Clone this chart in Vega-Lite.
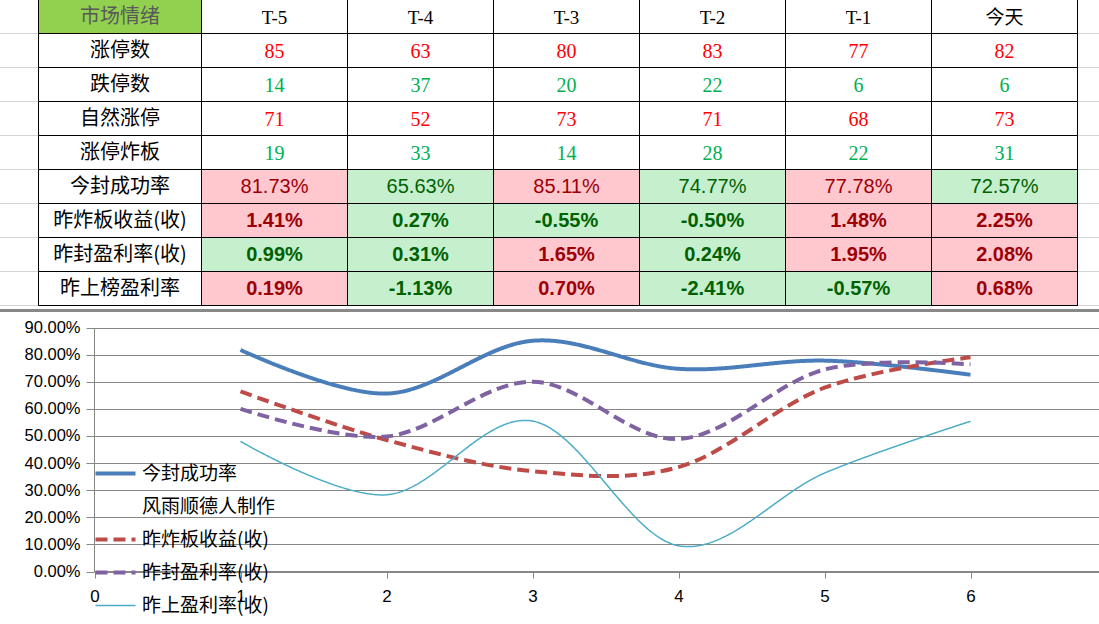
{
  "$schema": "https://vega.github.io/schema/vega-lite/v6.json",
  "width": 1099,
  "height": 624,
  "autosize": "none",
  "padding": 0,
  "background": "white",
  "config": {"view": {"stroke": null}},
  "datasets": {
    "rows": [
      {"row": "市场情绪"}, {"row": "涨停数"}, {"row": "跌停数"}, {"row": "自然涨停"}, {"row": "涨停炸板"},
      {"row": "今封成功率"}, {"row": "昨炸板收益(收)"}, {"row": "昨封盈利率(收)"}, {"row": "昨上榜盈利率"}
    ],
    "cells": [
      {"row": "市场情绪", "col": "T-5", "text": "T-5"},
      {"row": "市场情绪", "col": "T-4", "text": "T-4"},
      {"row": "市场情绪", "col": "T-3", "text": "T-3"},
      {"row": "市场情绪", "col": "T-2", "text": "T-2"},
      {"row": "市场情绪", "col": "T-1", "text": "T-1"},
      {"row": "市场情绪", "col": "今天", "text": "今天"},
      {"row": "涨停数", "col": "T-5", "text": "85", "tone": "涨"},
      {"row": "涨停数", "col": "T-4", "text": "63", "tone": "涨"},
      {"row": "涨停数", "col": "T-3", "text": "80", "tone": "涨"},
      {"row": "涨停数", "col": "T-2", "text": "83", "tone": "涨"},
      {"row": "涨停数", "col": "T-1", "text": "77", "tone": "涨"},
      {"row": "涨停数", "col": "今天", "text": "82", "tone": "涨"},
      {"row": "跌停数", "col": "T-5", "text": "14", "tone": "跌"},
      {"row": "跌停数", "col": "T-4", "text": "37", "tone": "跌"},
      {"row": "跌停数", "col": "T-3", "text": "20", "tone": "跌"},
      {"row": "跌停数", "col": "T-2", "text": "22", "tone": "跌"},
      {"row": "跌停数", "col": "T-1", "text": "6", "tone": "跌"},
      {"row": "跌停数", "col": "今天", "text": "6", "tone": "跌"},
      {"row": "自然涨停", "col": "T-5", "text": "71", "tone": "涨"},
      {"row": "自然涨停", "col": "T-4", "text": "52", "tone": "涨"},
      {"row": "自然涨停", "col": "T-3", "text": "73", "tone": "涨"},
      {"row": "自然涨停", "col": "T-2", "text": "71", "tone": "涨"},
      {"row": "自然涨停", "col": "T-1", "text": "68", "tone": "涨"},
      {"row": "自然涨停", "col": "今天", "text": "73", "tone": "涨"},
      {"row": "涨停炸板", "col": "T-5", "text": "19", "tone": "跌"},
      {"row": "涨停炸板", "col": "T-4", "text": "33", "tone": "跌"},
      {"row": "涨停炸板", "col": "T-3", "text": "14", "tone": "跌"},
      {"row": "涨停炸板", "col": "T-2", "text": "28", "tone": "跌"},
      {"row": "涨停炸板", "col": "T-1", "text": "22", "tone": "跌"},
      {"row": "涨停炸板", "col": "今天", "text": "31", "tone": "跌"},
      {"row": "今封成功率", "col": "T-5", "text": "81.73%", "tone": "涨"},
      {"row": "今封成功率", "col": "T-4", "text": "65.63%", "tone": "跌"},
      {"row": "今封成功率", "col": "T-3", "text": "85.11%", "tone": "涨"},
      {"row": "今封成功率", "col": "T-2", "text": "74.77%", "tone": "跌"},
      {"row": "今封成功率", "col": "T-1", "text": "77.78%", "tone": "涨"},
      {"row": "今封成功率", "col": "今天", "text": "72.57%", "tone": "跌"},
      {"row": "昨炸板收益(收)", "col": "T-5", "text": "1.41%", "tone": "涨"},
      {"row": "昨炸板收益(收)", "col": "T-4", "text": "0.27%", "tone": "跌"},
      {"row": "昨炸板收益(收)", "col": "T-3", "text": "-0.55%", "tone": "跌"},
      {"row": "昨炸板收益(收)", "col": "T-2", "text": "-0.50%", "tone": "跌"},
      {"row": "昨炸板收益(收)", "col": "T-1", "text": "1.48%", "tone": "涨"},
      {"row": "昨炸板收益(收)", "col": "今天", "text": "2.25%", "tone": "涨"},
      {"row": "昨封盈利率(收)", "col": "T-5", "text": "0.99%", "tone": "跌"},
      {"row": "昨封盈利率(收)", "col": "T-4", "text": "0.31%", "tone": "跌"},
      {"row": "昨封盈利率(收)", "col": "T-3", "text": "1.65%", "tone": "涨"},
      {"row": "昨封盈利率(收)", "col": "T-2", "text": "0.24%", "tone": "跌"},
      {"row": "昨封盈利率(收)", "col": "T-1", "text": "1.95%", "tone": "涨"},
      {"row": "昨封盈利率(收)", "col": "今天", "text": "2.08%", "tone": "涨"},
      {"row": "昨上榜盈利率", "col": "T-5", "text": "0.19%", "tone": "涨"},
      {"row": "昨上榜盈利率", "col": "T-4", "text": "-1.13%", "tone": "跌"},
      {"row": "昨上榜盈利率", "col": "T-3", "text": "0.70%", "tone": "涨"},
      {"row": "昨上榜盈利率", "col": "T-2", "text": "-2.41%", "tone": "跌"},
      {"row": "昨上榜盈利率", "col": "T-1", "text": "-0.57%", "tone": "跌"},
      {"row": "昨上榜盈利率", "col": "今天", "text": "0.68%", "tone": "涨"}
    ],
    "chart": [
      {"x": 1, "series": "今封成功率", "value": 0.8173},
      {"x": 2, "series": "今封成功率", "value": 0.6563},
      {"x": 3, "series": "今封成功率", "value": 0.8511},
      {"x": 4, "series": "今封成功率", "value": 0.7477},
      {"x": 5, "series": "今封成功率", "value": 0.7778},
      {"x": 6, "series": "今封成功率", "value": 0.7257},
      {"x": 1, "series": "昨炸板收益(收)", "value": 0.664},
      {"x": 2, "series": "昨炸板收益(收)", "value": 0.485},
      {"x": 3, "series": "昨炸板收益(收)", "value": 0.37},
      {"x": 4, "series": "昨炸板收益(收)", "value": 0.385},
      {"x": 5, "series": "昨炸板收益(收)", "value": 0.678},
      {"x": 6, "series": "昨炸板收益(收)", "value": 0.79},
      {"x": 1, "series": "昨封盈利率(收)", "value": 0.6},
      {"x": 2, "series": "昨封盈利率(收)", "value": 0.498},
      {"x": 3, "series": "昨封盈利率(收)", "value": 0.70},
      {"x": 4, "series": "昨封盈利率(收)", "value": 0.489},
      {"x": 5, "series": "昨封盈利率(收)", "value": 0.745},
      {"x": 6, "series": "昨封盈利率(收)", "value": 0.764},
      {"x": 1, "series": "昨上盈利率(收)", "value": 0.48},
      {"x": 2, "series": "昨上盈利率(收)", "value": 0.283},
      {"x": 3, "series": "昨上盈利率(收)", "value": 0.555},
      {"x": 4, "series": "昨上盈利率(收)", "value": 0.095},
      {"x": 5, "series": "昨上盈利率(收)", "value": 0.363},
      {"x": 6, "series": "昨上盈利率(收)", "value": 0.554}
    ]
  },
  "layer": [
    {
      "data": {"name": "cells"},
      "encoding": {
        "x": {"field": "col", "type": "nominal", "sort": ["T-5", "T-4", "T-3", "T-2", "T-1", "今天"],
              "scale": {"type": "band", "domain": ["T-5", "T-4", "T-3", "T-2", "T-1", "今天"], "range": [201.5, 1077.5], "paddingInner": 0, "paddingOuter": 0}, "axis": null},
        "y": {"field": "row", "type": "nominal",
              "scale": {"type": "band", "domain": ["市场情绪", "涨停数", "跌停数", "自然涨停", "涨停炸板", "今封成功率", "昨炸板收益(收)", "昨封盈利率(收)", "昨上榜盈利率"], "range": [-0.5, 305.5], "paddingInner": 0, "paddingOuter": 0}, "axis": null}
      },
      "layer": [
        {"mark": {"type": "rule", "color": "#d4d4d4", "strokeWidth": 1},
         "encoding": {"x": null, "y": {"field": "row", "type": "nominal", "bandPosition": 1}}},
        {"mark": {"type": "rule", "color": "#888888", "strokeWidth": 1.5, "yOffset": 5},
         "encoding": {"x": null, "y": {"datum": "昨上榜盈利率", "type": "nominal", "bandPosition": 1}}},
        {"mark": {"type": "rect", "fill": "white", "stroke": "black", "strokeWidth": 1}},
        {"transform": [{"filter": {"field": "row", "oneOf": ["今封成功率", "昨炸板收益(收)", "昨封盈利率(收)", "昨上榜盈利率"]}}],
         "mark": {"type": "rect", "stroke": "black", "strokeWidth": 1},
         "encoding": {"fill": {"field": "tone", "type": "nominal", "scale": {"domain": ["涨", "跌"], "range": ["#FFC7CE", "#C6EFCE"]}, "legend": null}}},
        {"transform": [{"filter": {"field": "row", "equal": "市场情绪"}}],
         "mark": {"type": "text", "font": "Liberation Serif, Noto Sans CJK SC", "fontSize": 19, "color": "black", "baseline": "middle", "dy": 1},
         "encoding": {"text": {"field": "text"}}},
        {"transform": [{"filter": {"field": "row", "oneOf": ["涨停数", "跌停数", "自然涨停", "涨停炸板"]}}],
         "mark": {"type": "text", "font": "Liberation Serif", "fontSize": 20, "baseline": "middle", "dy": 1},
         "encoding": {"text": {"field": "text"},
                      "color": {"field": "tone", "type": "nominal", "scale": {"domain": ["涨", "跌"], "range": ["#FF0000", "#00B050"]}, "legend": null}}},
        {"transform": [{"filter": {"field": "row", "equal": "今封成功率"}}],
         "mark": {"type": "text", "font": "Liberation Sans", "fontSize": 20, "baseline": "middle"},
         "encoding": {"text": {"field": "text"},
                      "color": {"field": "tone", "type": "nominal", "scale": {"domain": ["涨", "跌"], "range": ["#9C0006", "#006100"]}, "legend": null}}},
        {"transform": [{"filter": {"field": "row", "oneOf": ["昨炸板收益(收)", "昨封盈利率(收)", "昨上榜盈利率"]}}],
         "mark": {"type": "text", "font": "Liberation Sans", "fontSize": 20, "fontWeight": "bold", "baseline": "middle"},
         "encoding": {"text": {"field": "text"},
                      "color": {"field": "tone", "type": "nominal", "scale": {"domain": ["涨", "跌"], "range": ["#9C0006", "#006100"]}, "legend": null}}}
      ],
      "resolve": {"scale": {"color": "independent"}, "legend": {"color": "independent"}}
    },
    {
      "data": {"name": "rows"},
      "encoding": {
        "x": {"datum": "市场情绪", "type": "nominal", "scale": {"type": "band", "range": [38.5, 201.5], "paddingInner": 0, "paddingOuter": 0}, "axis": null},
        "y": {"field": "row", "type": "nominal",
              "scale": {"type": "band", "domain": ["市场情绪", "涨停数", "跌停数", "自然涨停", "涨停炸板", "今封成功率", "昨炸板收益(收)", "昨封盈利率(收)", "昨上榜盈利率"], "range": [-0.5, 305.5], "paddingInner": 0, "paddingOuter": 0}, "axis": null}
      },
      "layer": [
        {"mark": {"type": "rect", "stroke": "black", "strokeWidth": 1},
         "encoding": {"fill": {"condition": {"test": "datum.row === '市场情绪'", "value": "#92D050"}, "value": "white"}}},
        {"mark": {"type": "text", "font": "Noto Sans CJK SC", "fontSize": 20, "baseline": "middle"},
         "encoding": {"text": {"field": "row"},
                      "color": {"condition": {"test": "datum.row === '市场情绪'", "value": "#595959"}, "value": "black"}}}
      ]
    },
    {
      "data": {"name": "chart"},
      "mark": {"type": "line", "interpolate": "cardinal"},
      "encoding": {
        "x": {"field": "x", "type": "quantitative",
              "scale": {"domain": [0, 6.88], "range": [94.5, 1099], "nice": false, "zero": false},
              "axis": {"orient": "bottom", "offset": -53, "values": [0, 1, 2, 3, 4, 5, 6], "format": "d", "title": null, "grid": false, "labelFlush": false,
                       "domainColor": "#868686", "tickColor": "#868686", "tickSize": 7, "labelPadding": 10,
                       "labelFont": "Liberation Sans", "labelFontSize": 17, "labelColor": "black"}},
        "y": {"field": "value", "type": "quantitative",
              "scale": {"domain": [0, 0.9], "range": [571.5, 327.5], "nice": false, "zero": false},
              "axis": {"orient": "left", "offset": -94, "values": [0, 0.1, 0.2, 0.3, 0.4, 0.5, 0.6, 0.7, 0.8, 0.9], "format": ".2%", "title": null,
                       "grid": true, "gridColor": "#868686", "gridOpacity": 1, "domainColor": "#868686", "tickColor": "#868686", "tickSize": 8,
                       "labelPadding": 6, "labelFont": "Liberation Sans", "labelFontSize": 16.5, "labelColor": "black"}},
        "color": {"field": "series", "type": "nominal",
                  "scale": {"domain": ["今封成功率", "风雨顺德人制作", "昨炸板收益(收)", "昨封盈利率(收)", "昨上盈利率(收)"],
                            "range": ["#4A7EBB", "transparent", "#BE4B48", "#7E62A1", "#4BACC6"]},
                  "legend": {"orient": "none", "legendX": 106, "legendY": 464, "title": null, "symbolType": "M-2,0L2,0", "symbolSize": 400,
                             "labelFont": "Noto Sans CJK SC", "labelFontSize": 19, "labelColor": "black", "labelOffset": 17, "rowPadding": 13, "padding": 0,
                             "encode": {"symbols": {"update": {"strokeWidth": {"signal": "datum.value === '昨上盈利率(收)' ? 1.5 : 4"}}}}}},
        "strokeDash": {"field": "series", "type": "nominal",
                       "scale": {"domain": ["今封成功率", "风雨顺德人制作", "昨炸板收益(收)", "昨封盈利率(收)", "昨上盈利率(收)"],
                                 "range": [[1, 0], [1, 0], [12, 6], [12, 6], [1, 0]]},
                       "legend": {"orient": "none", "legendX": 106, "legendY": 464, "title": null, "symbolType": "M-2,0L2,0", "symbolSize": 400,
                                  "labelFont": "Noto Sans CJK SC", "labelFontSize": 19, "labelColor": "black", "labelOffset": 17, "rowPadding": 13, "padding": 0,
                                  "encode": {"symbols": {"update": {"strokeWidth": {"signal": "datum.value === '昨上盈利率(收)' ? 1.5 : 4"}}}}}},
        "strokeWidth": {"condition": {"test": "datum.series === '昨上盈利率(收)'", "value": 1.5}, "value": 4}
      }
    }
  ],
  "resolve": {
    "scale": {"x": "independent", "y": "independent", "color": "independent", "fill": "independent", "strokeDash": "independent"},
    "axis": {"x": "independent", "y": "independent"},
    "legend": {"color": "independent"}
  }
}
